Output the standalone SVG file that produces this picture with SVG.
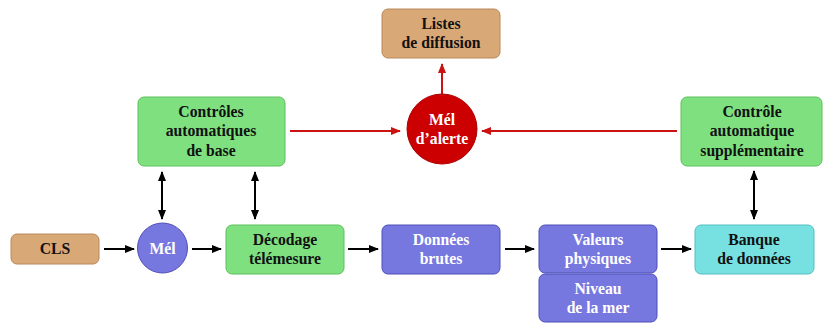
<svg xmlns="http://www.w3.org/2000/svg" width="823" height="323" viewBox="0 0 823 323">
<defs>
<style>
text{font-family:"Liberation Serif","Times New Roman",serif;font-weight:bold;font-size:15.7px;text-anchor:middle}
.tan{fill:#D9A877;stroke:#B8885A;stroke-width:1}
.green{fill:#7FE07F;stroke:#5FBF5F;stroke-width:1}
.blue{fill:#7777E0;stroke:#4F4FB8;stroke-width:1}
.cyan{fill:#77E0E0;stroke:#55BFBF;stroke-width:1}
.red{fill:#CC0000;stroke:#AA0000;stroke-width:1}
.dk{fill:#111}
.wt{fill:#fff}
.blk{stroke:#000;stroke-width:2;fill:none}
.rl{stroke:#CC1111;stroke-width:2;fill:none}
</style>
<marker id="ab" markerWidth="10" markerHeight="8" refX="9" refY="4" orient="auto-start-reverse" markerUnits="userSpaceOnUse">
<path d="M0,0 L10,4 L0,8 z" fill="#000"/>
</marker>
<marker id="ar" markerWidth="10" markerHeight="8" refX="9" refY="4" orient="auto-start-reverse" markerUnits="userSpaceOnUse">
<path d="M0,0 L10,4 L0,8 z" fill="#CC1111"/>
</marker>
</defs>
<rect width="823" height="323" fill="#fff"/>
<g id="connectors">
<line class="rl" x1="290" y1="131" x2="400" y2="131" marker-end="url(#ar)"/>
<line class="rl" x1="677" y1="131" x2="482" y2="131" marker-end="url(#ar)"/>
<line class="rl" x1="442" y1="94" x2="442" y2="64" marker-end="url(#ar)"/>
<line class="blk" x1="162" y1="172" x2="162" y2="219" marker-start="url(#ab)" marker-end="url(#ab)"/>
<line class="blk" x1="255" y1="172" x2="255" y2="219" marker-start="url(#ab)" marker-end="url(#ab)"/>
<line class="blk" x1="754" y1="171" x2="754" y2="219" marker-start="url(#ab)" marker-end="url(#ab)"/>
<line class="blk" x1="104" y1="249" x2="134" y2="249" marker-end="url(#ab)"/>
<line class="blk" x1="192" y1="249" x2="221" y2="249" marker-end="url(#ab)"/>
<line class="blk" x1="348" y1="249" x2="378" y2="249" marker-end="url(#ab)"/>
<line class="blk" x1="505" y1="249" x2="534" y2="249" marker-end="url(#ab)"/>
<line class="blk" x1="661" y1="249" x2="691" y2="249" marker-end="url(#ab)"/>
</g>
<g id="listes">
<rect class="tan" x="382" y="9" width="118" height="49" rx="6"/>
<text class="dk" x="441" y="29">Listes</text>
<text class="dk" x="441" y="48">de diffusion</text>
</g>
<g id="mel-alerte">
<circle class="red" cx="442" cy="129" r="35"/>
<text class="wt" x="442" y="125">Mél</text>
<text class="wt" x="442" y="144">d’alerte</text>
</g>
<g id="controles-base">
<rect class="green" x="138" y="97" width="147" height="69" rx="6"/>
<text class="dk" x="211" y="117">Contrôles</text>
<text class="dk" x="211" y="136">automatiques</text>
<text class="dk" x="211" y="156">de base</text>
</g>
<g id="controle-supp">
<rect class="green" x="681" y="97" width="141" height="69" rx="6"/>
<text class="dk" x="752" y="117">Contrôle</text>
<text class="dk" x="752" y="136">automatique</text>
<text class="dk" x="752" y="156">supplémentaire</text>
</g>
<g id="cls">
<rect class="tan" x="11" y="234" width="88" height="30" rx="6"/>
<text class="dk" x="55" y="254">CLS</text>
</g>
<g id="mel">
<circle class="blue" cx="162.5" cy="248" r="25"/>
<text class="wt" x="162.5" y="254">Mél</text>
</g>
<g id="decodage">
<rect class="green" x="226" y="225" width="118" height="49" rx="6"/>
<text class="dk" x="285" y="245">Décodage</text>
<text class="dk" x="285" y="264">télémesure</text>
</g>
<g id="donnees-brutes">
<rect class="blue" x="382" y="225" width="118" height="49" rx="6"/>
<text class="wt" x="441" y="245">Données</text>
<text class="wt" x="441" y="264">brutes</text>
</g>
<g id="valeurs-physiques">
<rect class="blue" x="539" y="225" width="118" height="48" rx="6"/>
<text class="wt" x="598" y="245">Valeurs</text>
<text class="wt" x="598" y="264">physiques</text>
</g>
<g id="niveau-mer">
<rect class="blue" x="539" y="274" width="118" height="48" rx="6"/>
<text class="wt" x="598" y="294">Niveau</text>
<text class="wt" x="598" y="313">de la mer</text>
</g>
<g id="banque">
<rect class="cyan" x="695" y="225" width="119" height="49" rx="6"/>
<text class="dk" x="754" y="245">Banque</text>
<text class="dk" x="754" y="264">de données</text>
</g>
</svg>
